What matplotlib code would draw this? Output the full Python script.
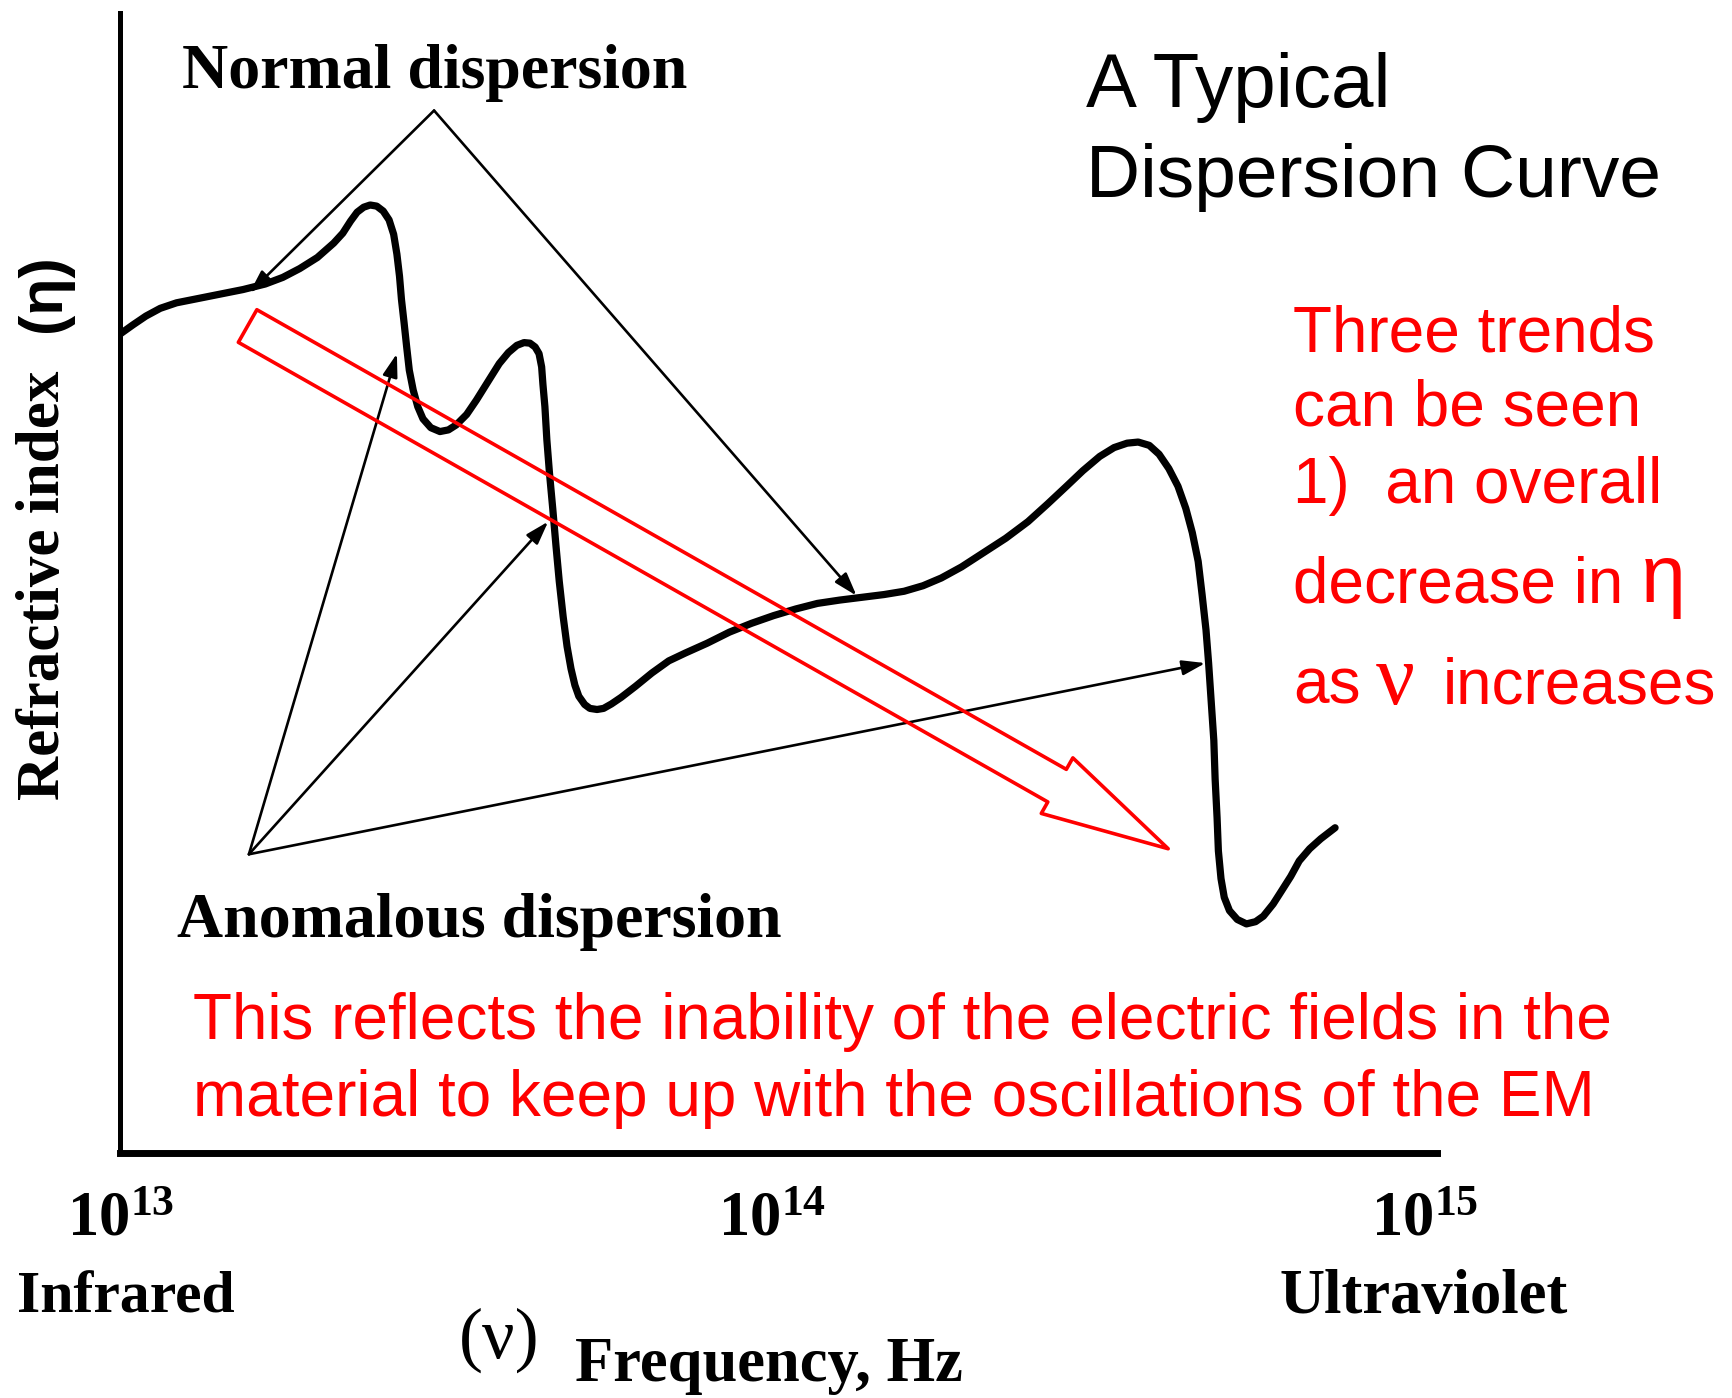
import matplotlib
matplotlib.use("Agg")
import matplotlib.pyplot as plt

plt.rcParams["mathtext.fontset"] = "custom"
plt.rcParams["mathtext.rm"] = "Liberation Serif:bold"
plt.rcParams["mathtext.it"] = "Liberation Serif:bold"
plt.rcParams["mathtext.bf"] = "Liberation Serif:bold"

# dispersion curve: log10 of frequency (Hz) and relative refractive index
log_nu = [13.000, 13.019, 13.039, 13.061, 13.086, 13.120, 13.154, 13.188, 13.222, 13.249,
          13.275, 13.302, 13.327, 13.341, 13.353, 13.363, 13.373, 13.383, 13.393, 13.403,
          13.412, 13.419, 13.424, 13.428, 13.431, 13.435, 13.439, 13.443, 13.449, 13.456,
          13.464, 13.476, 13.490, 13.503, 13.515, 13.531, 13.546, 13.564, 13.581, 13.595,
          13.608, 13.619, 13.628, 13.636, 13.642, 13.646, 13.648, 13.651, 13.654, 13.658,
          13.663, 13.668, 13.673, 13.679, 13.685, 13.691, 13.697, 13.703, 13.712, 13.720,
          13.731, 13.741, 13.753, 13.768, 13.790, 13.815, 13.841, 13.866, 13.900, 13.934,
          13.968, 14.002, 14.036, 14.069, 14.103, 14.137, 14.171, 14.202, 14.231, 14.259,
          14.290, 14.324, 14.358, 14.392, 14.422, 14.451, 14.476, 14.502, 14.524, 14.544,
          14.561, 14.578, 14.593, 14.608, 14.622, 14.634, 14.644, 14.653, 14.659, 14.665,
          14.669, 14.673, 14.677, 14.679, 14.682, 14.684, 14.688, 14.693, 14.701, 14.713,
          14.727, 14.741, 14.753, 14.768, 14.781, 14.795, 14.808, 14.824, 14.841, 14.863]
index_n = [0.741, 0.749, 0.757, 0.764, 0.769, 0.773, 0.777, 0.781, 0.786, 0.792,
           0.800, 0.810, 0.823, 0.832, 0.843, 0.851, 0.8555, 0.8575, 0.8565, 0.852,
           0.844, 0.831, 0.813, 0.793, 0.772, 0.751, 0.729, 0.708, 0.690, 0.675,
           0.664, 0.656, 0.6525, 0.654, 0.6585, 0.668, 0.681, 0.698, 0.714, 0.724,
           0.7305, 0.733, 0.7325, 0.729, 0.723, 0.711, 0.695, 0.675, 0.645, 0.615,
           0.583, 0.549, 0.517, 0.485, 0.458, 0.438, 0.423, 0.413, 0.4055, 0.402,
           0.401, 0.402, 0.406, 0.412, 0.422, 0.434, 0.445, 0.452, 0.461, 0.471,
           0.479, 0.486, 0.492, 0.497, 0.500, 0.5025, 0.505, 0.508, 0.513, 0.520,
           0.530, 0.543, 0.556, 0.571, 0.587, 0.603, 0.617, 0.630, 0.638, 0.642,
           0.643, 0.640, 0.632, 0.619, 0.603, 0.583, 0.561, 0.535, 0.505, 0.473,
           0.443, 0.408, 0.373, 0.338, 0.303, 0.273, 0.248, 0.231, 0.219, 0.211,
           0.207, 0.209, 0.214, 0.225, 0.237, 0.250, 0.264, 0.275, 0.284, 0.294]

# annotation arrows (label point -> curve point), same units
normal_from = (13.481, 0.943)
normal_to = [(13.198, 0.778), (14.129, 0.504)]
anomalous_from = (13.197, 0.270)
anomalous_to = [(13.424, 0.723), (13.656, 0.571), (14.664, 0.443)]
trend_start = (13.195, 0.748)
trend_end = (14.607, 0.275)

tick_pos = [13, 14, 15]
tick_labels = [r"$10^{13}$", r"$10^{14}$", r"$10^{15}$"]


def fx(px):
    return px / 1568


def fy(py):
    return 1 - py / 1265


serif = dict(family="Liberation Serif", weight="bold", color="black")
sans_red = dict(family="Liberation Sans", color="red")

fig = plt.figure(figsize=(17.33, 13.98), dpi=100)
ax = fig.add_axes([fx(109), fy(1043), fx(1300) - fx(109), fy(12) - fy(1043)])

ax.plot(log_nu, index_n, color="black", lw=5.2,
        solid_capstyle="round", solid_joinstyle="round")

arrow_black = dict(arrowstyle="-|>,head_length=1.4,head_width=0.45", mutation_scale=10,
                   color="black", lw=1.9, shrinkA=0, shrinkB=0)
for tip in normal_to:
    ax.annotate("", xy=tip, xytext=normal_from, arrowprops=arrow_black)
for tip in anomalous_to:
    ax.annotate("", xy=tip, xytext=anomalous_from, arrowprops=arrow_black)

ax.annotate("", xy=trend_end, xytext=trend_start, zorder=5,
            arrowprops=dict(arrowstyle="simple,head_length=92,head_width=46,tail_width=27",
                            mutation_scale=1, fc="none", ec="red", lw=2.6,
                            shrinkA=0, shrinkB=0))

ax.set_xlim(13, 15.019)
ax.set_ylim(0, 1.031)
ax.set_xticks(tick_pos, tick_labels, fontsize=45)
ax.tick_params(axis="x", length=0, pad=26)
ax.set_yticks([])
ax.spines["top"].set_visible(False)
ax.spines["right"].set_visible(False)
ax.spines["left"].set_linewidth(3.6)
ax.spines["bottom"].set_linewidth(5)

# book-figure labels
fig.text(fx(165), fy(80), "Normal dispersion", fontsize=46, va="baseline", **serif)
fig.text(fx(160), fy(848), "Anomalous dispersion", fontsize=46, va="baseline", **serif)
fig.text(fx(40), fy(530), "Refractive index", fontsize=44, rotation=90,
         ha="center", va="center", **serif)
fig.text(fx(40), fy(265), "(η)", fontsize=44, rotation=90, ha="center", va="center",
         family="Liberation Sans", weight="bold")
fig.text(fx(15), fy(1188), "Infrared", fontsize=43, va="baseline", **serif)
fig.text(fx(1158), fy(1188), "Ultraviolet", fontsize=45, va="baseline", **serif)
fig.text(fx(520), fy(1250), "Frequency, Hz", fontsize=45, va="baseline", **serif)
fig.text(fx(452), fy(1213), "(ν)", fontsize=52, ha="center", va="center",
         family="Liberation Serif")

# slide annotations
fig.text(fx(983), fy(97), "A Typical", fontsize=55, va="baseline",
         family="Liberation Sans")
fig.text(fx(983), fy(178), "Dispersion Curve", fontsize=54, va="baseline",
         family="Liberation Sans")

fig.text(fx(1170), fy(318), "Three trends", fontsize=46, va="baseline", **sans_red)
fig.text(fx(1170), fy(385), "can be seen", fontsize=46, va="baseline", **sans_red)
fig.text(fx(1170), fy(455), "1)  an overall", fontsize=46, va="baseline", **sans_red)
fig.text(fx(1170), fy(545), "decrease in", fontsize=46, va="baseline", **sans_red)
fig.text(fx(1485), fy(545), "η", fontsize=58, va="baseline", **sans_red)
fig.text(fx(1170), fy(637), "as", fontsize=46, va="baseline", **sans_red)
fig.text(fx(1245), fy(637), "ν", fontsize=62, va="baseline",
         family="Liberation Serif", color="red")
fig.text(fx(1305), fy(637), "increases", fontsize=46, va="baseline", **sans_red)

fig.text(fx(175), fy(940), "This reflects the inability of the electric fields in the",
         fontsize=46, va="baseline", **sans_red)
fig.text(fx(175), fy(1010), "material to keep up with the oscillations of the EM",
         fontsize=46, va="baseline", **sans_red)

fig.savefig("out.png", dpi=100)
